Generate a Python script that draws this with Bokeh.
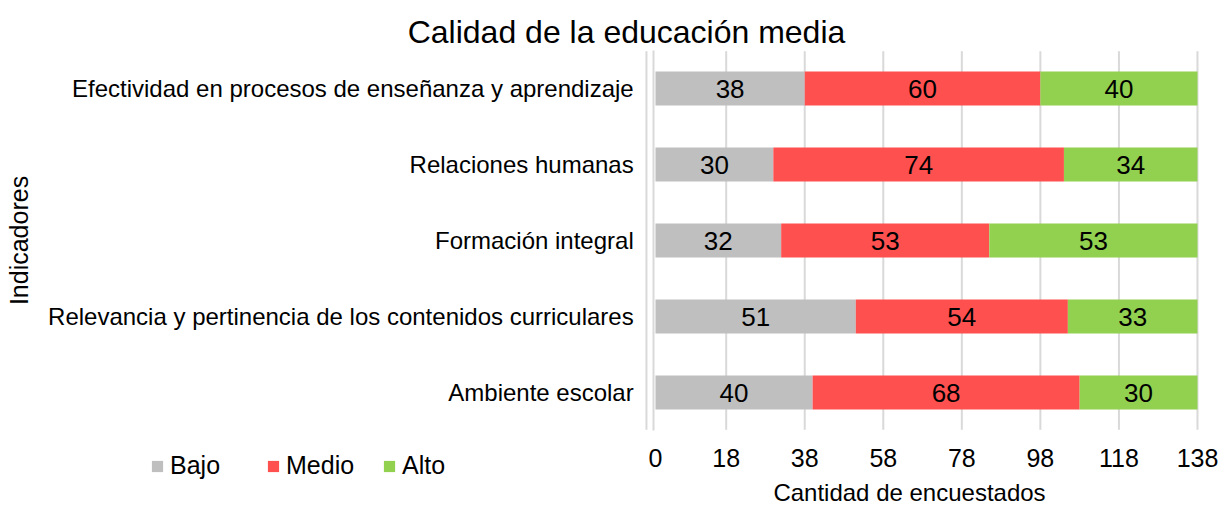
from bokeh.plotting import figure
from bokeh.models import (ColumnDataSource, FixedTicker, Range1d, Label,
                          Legend, LegendItem)
from bokeh.embed import file_html
from bokeh.resources import INLINE
from bokeh.core.properties import value

# ---- data ----
categories = [
    "Efectividad en procesos de enseñanza y aprendizaje",
    "Relaciones humanas",
    "Formación integral",
    "Relevancia y pertinencia de los contenidos curriculares",
    "Ambiente escolar",
]
bajo = [38, 30, 32, 51, 40]
medio = [60, 74, 53, 54, 68]
alto = [40, 34, 53, 33, 30]
series_names = ["Bajo", "Medio", "Alto"]
series_colors = ["#bfbfbf", "#ff5050", "#92d050"]
x_ticks = [0, 18, 38, 58, 78, 98, 118, 138]
title_text = "Calidad de la educación media"
x_title = "Cantidad de encuestados"
y_title = "Indicadores"

FONT = "Liberation Sans"
W, H = 1222, 508

n = len(categories)
ypos = [n - 1 - i for i in range(n)]          # first category on top

p = figure(
    width=W, height=H,
    x_range=Range1d(-166.77, 144.37),
    y_range=Range1d(-1.5263, 5.1579),
    output_backend="svg", toolbar_location=None,
    min_border=0,
)
p.outline_line_color = None
p.title.visible = False
p.xgrid.grid_line_color = None
p.ygrid.grid_line_color = None

# vertical grid lines limited to the plot area
grid_x = [-2.3] + x_ticks[1:]
p.segment(x0=grid_x, x1=grid_x, y0=[-0.49] * len(grid_x), y1=[4.49] * len(grid_x),
          line_color="#d9d9d9", line_width=2)

# stacked bars
series = [bajo, medio, alto]
renderers = []
left = [0] * n
for name, vals, col in zip(series_names, series, series_colors):
    right = [l + v for l, v in zip(left, vals)]
    src = ColumnDataSource(dict(
        y=ypos, left=left, right=right, val=[str(v) for v in vals],
        mid=[(l + r) / 2 for l, r in zip(left, right)],
    ))
    r = p.hbar(y="y", left="left", right="right", height=0.45, source=src,
               fill_color=col, line_color=None)
    renderers.append(r)
    p.text(x="mid", y="y", text="val", source=src,
           text_align="center", text_baseline="middle",
           text_font=value(FONT), text_font_size="26px", text_color="black")
    left = right

# x axis (drawn at the bottom of the plot area)
xa = p.xaxis[0]
xa.fixed_location = -0.5
xa.bounds = (-8.6, 138)
xa.ticker = FixedTicker(ticks=x_ticks)
xa.axis_line_color = None
xa.major_tick_line_color = None
xa.minor_tick_line_color = None
xa.major_tick_out = 0
xa.major_label_text_font = FONT
xa.major_label_text_font_size = "25px"
xa.major_label_text_color = "black"
xa.major_label_standoff = 18
xa.axis_label = x_title
xa.axis_label_text_font = FONT
xa.axis_label_text_font_size = "24px"
xa.axis_label_text_font_style = "normal"
xa.axis_label_text_color = "black"
xa.axis_label_standoff = 9

# y axis (category labels), drawn at the left edge of the bars
ya = p.yaxis[0]
ya.fixed_location = -0.45
ya.bounds = (-0.5, 4.5)
ya.ticker = FixedTicker(ticks=ypos)
ya.major_label_overrides = {yp: c for yp, c in zip(ypos, categories)}
ya.axis_line_color = "#d9d9d9"
ya.axis_line_width = 2
ya.major_tick_line_color = None
ya.minor_tick_line_color = None
ya.major_tick_out = 0
ya.major_label_text_font = FONT
ya.major_label_text_font_size = "24px"
ya.major_label_text_color = "black"
ya.major_label_standoff = 20
ya.axis_label = y_title
ya.axis_label_text_font = FONT
ya.axis_label_text_font_size = "25px"
ya.axis_label_text_font_style = "normal"
ya.axis_label_text_color = "black"
ya.axis_label_standoff = 12

# title
p.add_layout(Label(x=626, y=477, x_units="screen", y_units="screen",
                   text=title_text, text_font=FONT, text_font_size="32px",
                   text_align="center", text_baseline="alphabetic",
                   text_color="black"))

# legend: one small legend per series, placed left of the x axis
for name, r, lx in zip(series_names, renderers, [150, 266, 382]):
    lg = Legend(
        items=[LegendItem(label=name, renderers=[r])],
        location=(lx, 28), orientation="horizontal",
        label_text_font=FONT, label_text_font_size="25px",
        label_text_color="black", label_height=14,
        glyph_width=14, glyph_height=14, label_standoff=6,
        padding=0, margin=0, spacing=0,
        border_line_color=None, background_fill_alpha=0,
    )
    p.add_layout(lg, "center")

open("out.html", "w").write(file_html(p, INLINE))
